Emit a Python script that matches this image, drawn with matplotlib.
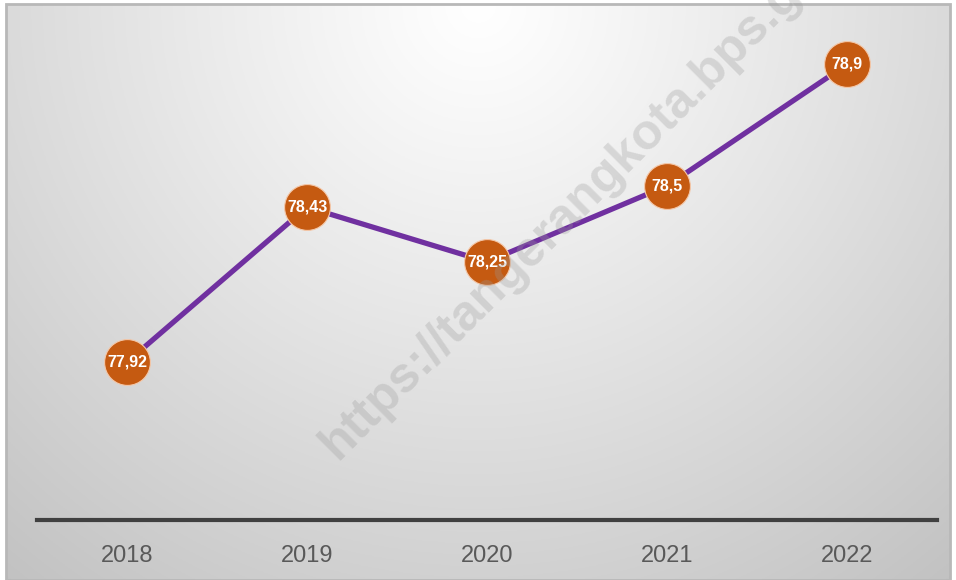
import numpy as np
import matplotlib.pyplot as plt
from matplotlib.patches import Rectangle

plt.rcParams['font.family'] = ['Liberation Sans', 'DejaVu Sans']

years = ['2018', '2019', '2020', '2021', '2022']
values = [77.92, 78.43, 78.25, 78.5, 78.9]
labels = ['77,92', '78,43', '78,25', '78,5', '78,9']

W, H = 956, 580
fig = plt.figure(figsize=(W / 100, H / 100), dpi=100)
fig.patch.set_facecolor('white')

# background panel with radial gradient
bx0, by0, bx1, by1 = 6, 4, 950, 580
bg = fig.add_axes([bx0 / W, 1 - by1 / H, (bx1 - bx0) / W, (by1 - by0) / H])
gx, gy = np.meshgrid(np.linspace(0, 1, 400), np.linspace(0, 1, 250))
asp = (bx1 - bx0) / (by1 - by0)
r = np.sqrt(((gx - 0.5) * asp) ** 2 + (gy * 1.0) ** 2) / np.sqrt((0.5 * asp) ** 2 + 1.0)
shade = 1.0 - 0.24 * np.clip(r, 0, 1) ** 1.1
bg.imshow(np.dstack([shade] * 3), aspect='auto', extent=[0, 1, 1, 0])
bg.set_xlim(0, 1)
bg.set_ylim(1, 0)
bg.axis('off')
bg.add_patch(Rectangle((0, 0), 1, 1, fill=False, edgecolor='#b8b8b8', linewidth=2,
                       transform=bg.transAxes, clip_on=False))

# plot area
ax = fig.add_axes([37 / W, 1 - 520 / H, 900 / W, (520 - 34) / H])
ax.patch.set_alpha(0)
x = np.arange(len(years))
ax.plot(x, values, color='#7030a0', linewidth=3.8, zorder=2)
ax.plot(x, values, 'o', markersize=33, markerfacecolor='#c55a11',
        markeredgecolor='#f4c7a8', markeredgewidth=0.8, zorder=3)
for xi, v, lab in zip(x, values, labels):
    ax.text(xi, v, lab, ha='center', va='center', color='white',
            fontsize=11.5, fontweight='bold', zorder=4)

ax.set_xlim(-0.5, 4.5)
ax.set_ylim(77.4, 79.0)
ax.set_yticks([])
ax.set_xticks(x)
ax.set_xticklabels(years, fontsize=17, color='#595959')
ax.tick_params(axis='x', length=0, pad=18)
for s in ['top', 'left', 'right']:
    ax.spines[s].set_visible(False)
ax.spines['bottom'].set_color('#404040')
ax.spines['bottom'].set_linewidth(3)

# watermark
wm = fig.text(592 / W, 1 - 188 / H, 'https://tangerangkota.bps.go.id', rotation=45,
              rotation_mode='anchor', ha='center', va='center', fontsize=36,
              fontweight='bold', color='#9a9a9a', alpha=0.3, zorder=10)
wm.set_clip_on(True)

fig.savefig('out.png', dpi=100)
